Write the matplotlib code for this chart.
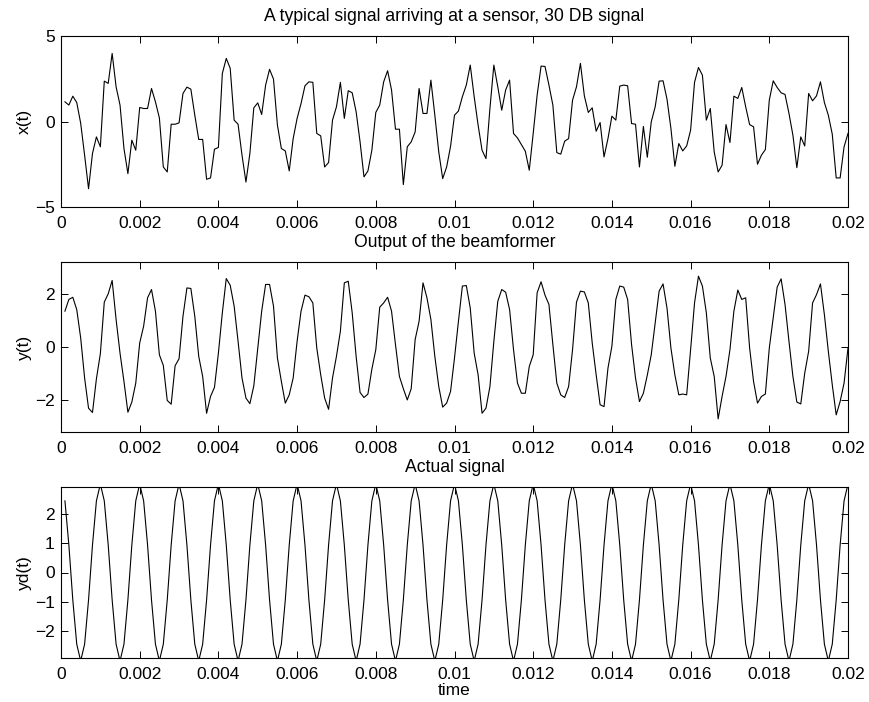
import numpy as np
import matplotlib
matplotlib.use("Agg")
import matplotlib.pyplot as plt
from matplotlib.ticker import FixedLocator, FixedFormatter

plt.rcParams['font.family'] = ['Liberation Sans', 'DejaVu Sans']

# sample times (200 samples, step 0.0001 s)
time = np.arange(1, 201) * 1e-4

# signal at a sensor
x_sig = [
    1.15, 0.96, 1.48, 1.11, -0.10, -1.97, -3.93, -1.87, -0.90, -1.48,
    2.36, 2.23, 3.98, 2.03, 0.96, -1.58, -3.05, -1.09, -1.68, 0.82,
    0.76, 0.76, 1.93, 1.15, 0.21, -2.66, -2.95, -0.16, -0.16, -0.08,
    1.64, 2.01, 1.89, 0.37, -1.05, -1.05, -3.38, -3.30, -1.62, -1.52,
    2.81, 3.69, 3.11, 0.08, -0.16, -1.97, -3.54, -1.87, 0.80, 1.09,
    0.41, 2.13, 3.05, 2.48, -0.21, -1.58, -1.72, -2.89, -1.00, 0.18,
    1.05, 2.09, 2.32, 2.29, -0.70, -0.84, -2.66, -2.40, 0.08, 0.86,
    2.29, 0.18, 1.80, 1.68, 0.57, -1.19, -3.24, -2.89, -1.68, 0.53,
    0.96, 2.32, 2.97, 1.84, -0.45, -0.45, -3.69, -1.48, -1.19, -0.61,
    1.93, 0.47, 0.47, 2.42, 0.37, -1.78, -3.34, -2.66, -1.45, 0.37,
    0.61, 1.45, 2.13, 3.30, 1.45, -0.21, -1.68, -2.17, 0.76, 3.30,
    2.03, 0.66, 1.84, 2.42, -0.70, -0.96, -1.35, -1.74, -2.85, -0.70,
    1.54, 3.24, 3.22, 2.13, 0.96, -1.82, -1.91, -1.15, -1.00, 1.25,
    2.03, 3.40, 1.50, 0.53, 0.80, -0.57, -0.06, -2.07, -1.00, 0.31,
    0.08, 2.07, 2.13, 2.09, -0.12, -0.16, -2.66, -0.29, -2.09, -0.02,
    0.86, 2.36, 2.38, 1.31, -0.41, -2.62, -1.29, -1.72, -1.43, -0.51,
    2.29, 3.16, 2.71, 0.08, 0.76, -1.78, -2.95, -2.56, -0.18, -1.23,
    1.48, 1.35, 1.99, 0.86, -0.18, -0.31, -2.50, -1.97, -1.64, 1.25,
    2.38, 1.99, 1.68, 1.58, 0.47, -0.80, -2.70, -0.90, -1.43, 1.64,
    1.21, 1.50, 2.32, 1.11, 0.37, -0.74, -3.30, -3.30, -1.48, -0.70,
]

# beamformer output
y_sig = [
    1.34, 1.78, 1.86, 1.40, 0.34, -1.16, -2.29, -2.45, -1.19, -0.25,
    1.68, 1.99, 2.49, 1.03, -0.23, -1.29, -2.44, -2.06, -1.35, 0.15,
    0.78, 1.84, 2.15, 1.34, -0.29, -0.69, -2.00, -2.14, -0.70, -0.44,
    1.15, 2.21, 2.19, 1.15, -0.35, -1.10, -2.48, -1.85, -1.51, -0.23,
    1.28, 2.56, 2.31, 1.53, 0.21, -1.16, -1.91, -2.12, -1.45, -0.04,
    1.34, 2.34, 2.34, 1.53, -0.41, -1.29, -2.10, -1.79, -1.16, 0.21,
    1.34, 1.94, 1.88, 1.65, -0.04, -1.04, -1.91, -2.33, -1.16, -0.35,
    0.59, 2.40, 2.46, 1.28, -0.35, -1.70, -1.89, -1.76, -0.83, -0.10,
    1.49, 1.65, 1.86, 1.34, 0.09, -1.10, -1.56, -1.98, -1.56, 0.28,
    0.96, 2.40, 1.84, 1.03, -0.35, -1.48, -2.25, -2.10, -1.66, -0.41,
    0.96, 2.28, 2.30, 1.46, -0.23, -1.04, -2.48, -2.29, -1.48, 0.21,
    1.71, 2.15, 2.05, 1.40, -0.10, -1.35, -1.73, -1.73, -0.73, -0.29,
    2.03, 2.44, 1.94, 1.59, 0.09, -1.35, -1.79, -1.89, -1.48, -0.10,
    1.68, 2.09, 2.06, 1.65, 0.15, -1.04, -2.16, -2.23, -0.79, 0.03,
    1.78, 2.28, 2.24, 1.78, 0.09, -1.16, -2.04, -1.73, -1.05, -0.29,
    0.90, 2.09, 2.36, 1.46, -0.04, -1.04, -1.79, -1.76, -1.79, -0.10,
    1.65, 2.65, 2.28, 1.28, -0.41, -1.10, -2.69, -1.85, -1.10, -0.10,
    1.34, 2.13, 1.78, 1.84, -0.04, -1.29, -2.10, -1.85, -1.76, -0.04,
    1.09, 2.24, 2.55, 1.59, 0.21, -1.10, -2.06, -2.13, -0.98, -0.16,
    1.65, 1.96, 2.36, 1.21, -0.16, -1.41, -2.54, -2.04, -1.35, -0.04,
]

# actual signal
yd_sig = [
    2.43, 0.93, -0.93, -2.43, -3.00, -2.43, -0.93, 0.93, 2.43, 3.00,
    2.43, 0.93, -0.93, -2.43, -3.00, -2.43, -0.93, 0.93, 2.43, 3.00,
    2.43, 0.93, -0.93, -2.43, -3.00, -2.43, -0.93, 0.93, 2.43, 3.00,
    2.43, 0.93, -0.93, -2.43, -3.00, -2.43, -0.93, 0.93, 2.43, 3.00,
    2.43, 0.93, -0.93, -2.43, -3.00, -2.43, -0.93, 0.93, 2.43, 3.00,
    2.43, 0.93, -0.93, -2.43, -3.00, -2.43, -0.93, 0.93, 2.43, 3.00,
    2.43, 0.93, -0.93, -2.43, -3.00, -2.43, -0.93, 0.93, 2.43, 3.00,
    2.43, 0.93, -0.93, -2.43, -3.00, -2.43, -0.93, 0.93, 2.43, 3.00,
    2.43, 0.93, -0.93, -2.43, -3.00, -2.43, -0.93, 0.93, 2.43, 3.00,
    2.43, 0.93, -0.93, -2.43, -3.00, -2.43, -0.93, 0.93, 2.43, 3.00,
    2.43, 0.93, -0.93, -2.43, -3.00, -2.43, -0.93, 0.93, 2.43, 3.00,
    2.43, 0.93, -0.93, -2.43, -3.00, -2.43, -0.93, 0.93, 2.43, 3.00,
    2.43, 0.93, -0.93, -2.43, -3.00, -2.43, -0.93, 0.93, 2.43, 3.00,
    2.43, 0.93, -0.93, -2.43, -3.00, -2.43, -0.93, 0.93, 2.43, 3.00,
    2.43, 0.93, -0.93, -2.43, -3.00, -2.43, -0.93, 0.93, 2.43, 3.00,
    2.43, 0.93, -0.93, -2.43, -3.00, -2.43, -0.93, 0.93, 2.43, 3.00,
    2.43, 0.93, -0.93, -2.43, -3.00, -2.43, -0.93, 0.93, 2.43, 3.00,
    2.43, 0.93, -0.93, -2.43, -3.00, -2.43, -0.93, 0.93, 2.43, 3.00,
    2.43, 0.93, -0.93, -2.43, -3.00, -2.43, -0.93, 0.93, 2.43, 3.00,
    2.43, 0.93, -0.93, -2.43, -3.00, -2.43, -0.93, 0.93, 2.43, 3.00,
]

x_ticks = [0, 0.002, 0.004, 0.006, 0.008, 0.01, 0.012, 0.014, 0.016, 0.018, 0.02]
x_tick_labels = ["0", "0.002", "0.004", "0.006", "0.008", "0.01", "0.012",
                 "0.014", "0.016", "0.018", "0.02"]

titles = ["A typical signal arriving at a sensor, 30 DB signal",
          "Output of the beamformer", "Actual signal"]
ylabels = ["x(t)", "y(t)", "yd(t)"]
yticks_list = [[-5, 0, 5], [-2, 0, 2], [-2, -1, 0, 1, 2]]
ylims = [(-5, 5), (-3.18, 3.18), (-2.9, 2.9)]
series = [x_sig, y_sig, yd_sig]

FS = 12.5

fig = plt.figure(figsize=(8.69, 7.02), dpi=100)
W, H = 869.0, 702.0
boxes = [(61, 36, 848, 207), (61, 262, 848, 432), (61, 487, 848, 658)]

for i in range(3):
    l, t, r, b = boxes[i]
    ax = fig.add_axes([l / W, 1 - b / H, (r - l) / W, (b - t) / H])
    ax.plot(time, series[i], color='black', linewidth=0.8)
    ax.set_xlim(0, 0.02)
    ax.set_ylim(*ylims[i])
    ax.xaxis.set_major_locator(FixedLocator(x_ticks))
    ax.xaxis.set_major_formatter(FixedFormatter(x_tick_labels))
    ax.set_yticks(yticks_list[i])
    ax.set_yticklabels([("\u2212" + str(-v)) if v < 0 else str(v) for v in yticks_list[i]])
    ax.tick_params(direction='in', top=True, right=True, length=5, width=0.7,
                   labelsize=FS, colors='black')
    ax.tick_params(axis='x', pad=6.5)
    ax.tick_params(axis='y', pad=4.5)
    for s in ax.spines.values():
        s.set_linewidth(0.8)
        s.set_color('black')
    ax.set_title(titles[i], fontsize=12.7, pad=11)
    ax.set_ylabel(ylabels[i], fontsize=FS, labelpad=2)
    if i == 2:
        ax.set_xlabel("time", fontsize=FS, labelpad=1)

fig.savefig("out.png", dpi=100, facecolor='white')
